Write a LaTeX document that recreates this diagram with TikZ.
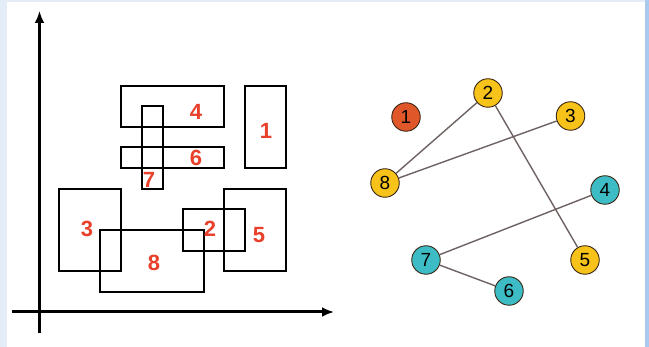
\documentclass[tikz,border=0pt]{standalone}
\usepackage{fontspec}
\setmainfont{Liberation Sans}
\usetikzlibrary{arrows.meta}
\definecolor{paneledge}{HTML}{E4ECF7}
\definecolor{panelright}{HTML}{A9C9EE}
\definecolor{labelred}{HTML}{E8402A}
\definecolor{nodered}{HTML}{E0582A}
\definecolor{nodeyellow}{HTML}{F7C21A}
\definecolor{nodeteal}{HTML}{3DBCC6}
\definecolor{edgegray}{HTML}{6E6262}
\tikzset{
  box/.style={draw=black, line width=2.7pt},
  boxlabel/.style={text=labelred, font=\fontsize{22}{22}\selectfont\bfseries, inner sep=0pt},
  axis/.style={line width=3pt, -{Latex[length=12pt,width=10pt]}},
  vertex/.style={circle, draw=black!70!brown, line width=0.9pt, minimum size=28.5pt, inner sep=0pt, font=\fontsize{19}{19}\selectfont},
  red vertex/.style={vertex, fill=nodered},
  yellow vertex/.style={vertex, fill=nodeyellow},
  teal vertex/.style={vertex, fill=nodeteal},
  link/.style={draw=edgegray, line width=1.4pt}
}
\begin{document}
\begin{tikzpicture}[x=1pt,y=-1pt]
  % panel background and frame
  \fill[paneledge] (0,0) rectangle (649,347);
  \fill[white] (7,2) rectangle (645,347);
  \fill[panelright] (645,0) rectangle (649,347);
  \useasboundingbox (0,0) rectangle (649,347);

  % axes
  \coordinate (yfoot) at (39.5,333);
  \coordinate (ytip) at (39.5,11);
  \coordinate (xfoot) at (12,312);
  \coordinate (xtip) at (334,312);
  \draw[axis] (yfoot) -- (ytip);
  \draw[axis] (xfoot) -- (xtip);

  % rectangles
  \draw[box] (121,86) rectangle (224,127);   % 4
  \draw[box] (245,86) rectangle (286,168);   % 1
  \draw[box] (121,147) rectangle (224,168);  % 6
  \draw[box] (142,106) rectangle (163,189);  % 7
  \draw[box] (59,189) rectangle (121,271);   % 3
  \draw[box] (224,189) rectangle (286,271);  % 5
  \draw[box] (183,209) rectangle (245,251);  % 2
  \draw[box] (100,230) rectangle (204,292);  % 8

  % rectangle labels
  \node[boxlabel] (l4) at (196,112) {4};
  \node[boxlabel] (l1) at (266,131) {1};
  \node[boxlabel] (l6) at (196,158) {6};
  \node[boxlabel] (l7) at (149,180) {7};
  \node[boxlabel] (l3) at (87,229) {3};
  \node[boxlabel] (l2) at (210,229) {2};
  \node[boxlabel] (l5) at (259,235) {5};
  \node[boxlabel] (l8) at (154,263) {8};

  % graph
  \node[red vertex]    (v1) at (406,117) {1};
  \node[yellow vertex] (v2) at (488,93)  {2};
  \node[yellow vertex] (v3) at (570.5,116) {3};
  \node[yellow vertex] (v8) at (385,183) {8};
  \node[teal vertex]   (v4) at (605,190) {4};
  \node[teal vertex]   (v7) at (426,260) {7};
  \node[yellow vertex] (v5) at (585,260) {5};
  \node[teal vertex]   (v6) at (509,291) {6};

  \path[link] (v2) -- (v8);
  \path[link] (v8) -- (v3);
  \path[link] (v2) -- (v5);
  \path[link] (v4) -- (v7);
  \path[link] (v7) -- (v6);
\end{tikzpicture}
\end{document}
